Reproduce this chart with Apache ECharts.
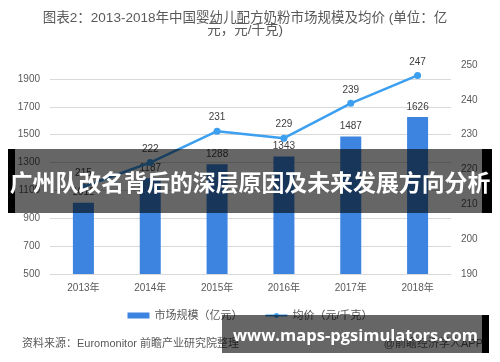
<!DOCTYPE html>
<html>
<head>
<meta charset="utf-8">
<script src="https://cdn.jsdelivr.net/npm/echarts@6/dist/echarts.min.js"></script>
<style>
html,body{margin:0;padding:0;background:#fff;}
#chart{width:500px;height:362px;}
</style>
</head>
<body>
<div id="chart"></div>
<script>
const categories = ['2013年', '2014年', '2015年', '2016年', '2017年', '2018年'];
const marketSize = [1012, 1187, 1288, 1343, 1487, 1626];
const avgPrice = [215, 222, 231, 229, 239, 247];
const seriesNames = ['市场规模（亿元）', '均价（元/千克）'];
const titleLines = ['图表2：2013-2018年中国婴幼儿配方奶粉市场规模及均价 (单位：亿', '元，元/千克)'];
const sourceText = '资料来源：Euromonitor 前瞻产业研究院整理';
const creditText = '@前瞻经济学人APP';
const bannerText = '广州队改名背后的深层原因及未来发展方向分析';
const siteText = 'www.maps-pgsimulators.com';

const FONT = '"Liberation Sans", "Noto Sans CJK SC", sans-serif';
const chart = echarts.init(document.getElementById('chart'), null, {renderer: 'canvas'});

chart.setOption({
  backgroundColor: '#ffffff',
  textStyle: {fontFamily: FONT},
  animation: false,
  grid: {left: 50, right: 49, top: 65, bottom: 88, containLabel: false},
  legend: {
    data: [
      {name: seriesNames[0], icon: 'rect'},
      {name: seriesNames[1]}
    ],
    left: 'center',
    top: 305,
    itemWidth: 22,
    itemHeight: 6,
    itemGap: 22,
    textStyle: {fontSize: 11, color: '#595959', fontFamily: FONT}
  },
  xAxis: {
    type: 'category',
    data: categories,
    axisLine: {show: true, lineStyle: {color: '#d9d9d9', width: 1}},
    axisTick: {show: false},
    axisLabel: {fontSize: 10, color: '#595959', margin: 9, fontFamily: FONT}
  },
  yAxis: [
    {
      type: 'value',
      min: 500,
      max: 2000,
      interval: 200,
      axisLine: {show: false},
      axisTick: {show: false},
      axisLabel: {
        fontSize: 10, color: '#595959', margin: 10, fontFamily: FONT,
        showMaxLabel: false,
        formatter: function (v) { return v >= 2000 ? '' : String(v); }
      },
      splitLine: {show: true, showMinLine: false, showMaxLine: false, lineStyle: {color: '#d9d9d9', width: 1}}
    },
    {
      type: 'value',
      min: 190,
      max: 250,
      interval: 10,
      axisLine: {show: false},
      axisTick: {show: false},
      axisLabel: {fontSize: 10, color: '#595959', margin: 10, fontFamily: FONT},
      splitLine: {show: false}
    }
  ],
  series: [
    {
      name: seriesNames[0],
      type: 'bar',
      data: marketSize,
      barWidth: 21,
      itemStyle: {color: '#3d84e0'},
      label: {show: true, position: 'top', distance: 5, fontSize: 10, color: '#404040', fontFamily: FONT},
      z: 2
    },
    {
      name: seriesNames[1],
      type: 'line',
      yAxisIndex: 1,
      data: avgPrice,
      symbol: 'circle',
      symbolSize: 7,
      itemStyle: {color: '#3c9ff0'},
      lineStyle: {color: '#3c9ff0', width: 2.5},
      label: {show: true, position: 'top', distance: 5, fontSize: 10, color: '#404040', fontFamily: FONT},
      z: 3
    }
  ],
  graphic: [
    {type: 'text', x: 245, y: 12, z: 10,
      style: {text: titleLines.join('\n'), fill: '#595959', font: '13.5px "Liberation Sans", "Noto Sans CJK SC", sans-serif', lineHeight: 12, align: 'center', textAlign: 'center'}},
    {type: 'text', left: 22, top: 338, z: 10,
      style: {text: sourceText, fill: '#595959', font: '11px "Liberation Sans", "Noto Sans CJK SC", sans-serif'}},
    {type: 'text', right: 17, top: 338, z: 10,
      style: {text: creditText, fill: '#595959', font: '11px "Liberation Sans", "Noto Sans CJK SC", sans-serif'}},
    // middle banner
    {type: 'rect', z: 100, shape: {x: 15, y: 149, width: 467, height: 64}, style: {fill: 'rgba(0,0,0,0.6)'}},
    {type: 'rect', z: 100, shape: {x: 8, y: 149, width: 7, height: 64}, style: {fill: '#000'}},
    {type: 'rect', z: 100, shape: {x: 482, y: 149, width: 10, height: 64}, style: {fill: '#000'}},
    {type: 'text', z: 101, left: 'center', top: 171,
      style: {text: bannerText, fill: '#ffffff', font: 'bold 22.9px "Noto Sans CJK SC", sans-serif'}},
    // bottom banner
    {type: 'rect', z: 100, shape: {x: 222, y: 315, width: 260, height: 38}, style: {fill: 'rgba(0,0,0,0.6)'}},
    {type: 'rect', z: 100, shape: {x: 482, y: 315, width: 7, height: 38}, style: {fill: '#000'}},
    {type: 'text', z: 101, left: 233, top: 328,
      style: {text: siteText, fill: '#ffffff', font: 'bold 16.5px "Open Sans", sans-serif'}}
  ]
});
</script>
</body>
</html>
